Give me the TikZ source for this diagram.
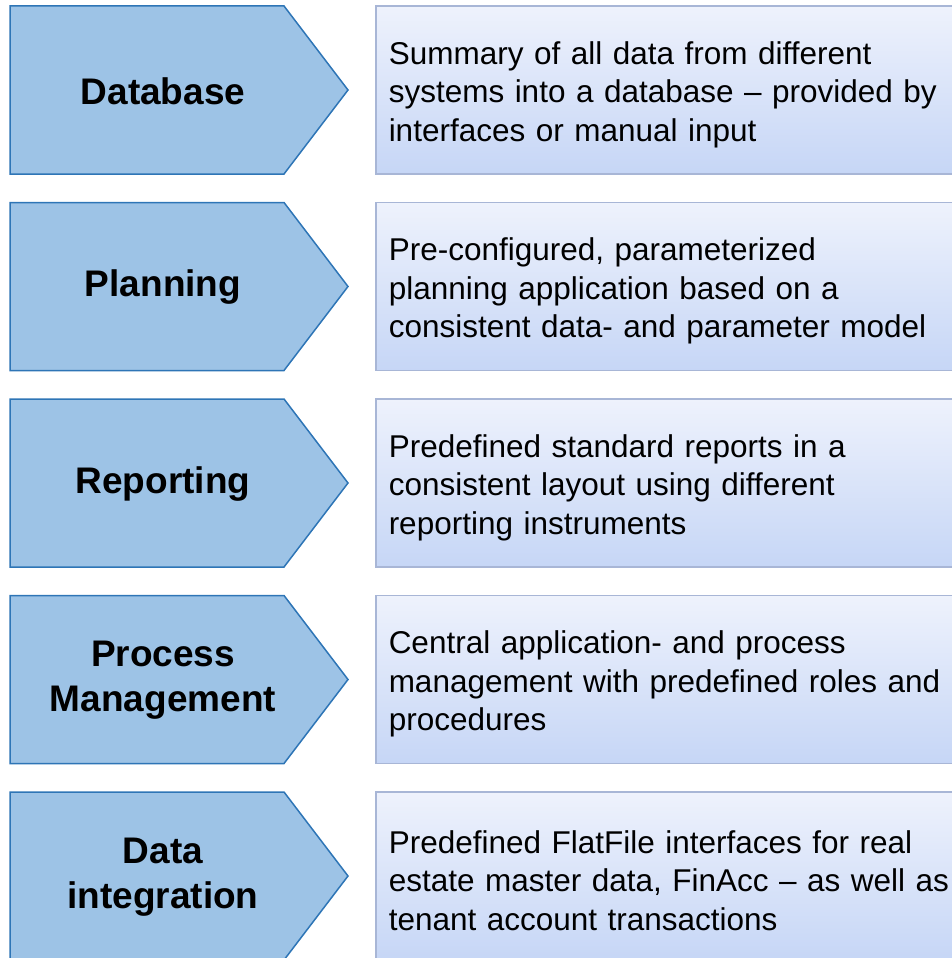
\documentclass[tikz,border=0pt]{standalone}
\usepackage{fontspec}
\setmainfont{Liberation Sans}
\definecolor{chevfill}{HTML}{9DC3E6}
\definecolor{chevline}{HTML}{2E75B6}
\definecolor{boxtop}{HTML}{EEF2FC}
\definecolor{boxbottom}{HTML}{C6D6F6}
\definecolor{boxline}{HTML}{A8B6D6}
\begin{document}
\begin{tikzpicture}[x=1pt,y=-1pt]
    \tikzstyle{chevron}=[draw=chevline,fill=chevfill,line width=1.5pt,line join=miter]
    \tikzstyle{step label}=[font=\fontsize{37}{45}\selectfont\bfseries,align=center]
    \tikzstyle{desc}=[draw=boxline,line width=1.5pt,top color=boxtop,bottom color=boxbottom,
        anchor=west,minimum width=625pt,minimum height=168pt,inner xsep=13pt,
        text width=599pt,text height=32pt,align=left,font=\fontsize{31.5}{38.5}\selectfont]
    \useasboundingbox (0,0) rectangle (952,958);
    \clip (0,0) rectangle (952,958);
    \begin{scope}
        % chevrons
        \draw[chevron] (10,6) -- (284,6) -- (348,90) -- (284,174) -- (10,174) -- cycle;
        \draw[chevron] (10,202.5) -- (284,202.5) -- (348,286.5) -- (284,370.5) -- (10,370.5) -- cycle;
        \draw[chevron] (10,399) -- (284,399) -- (348,483) -- (284,567) -- (10,567) -- cycle;
        \draw[chevron] (10,595.5) -- (284,595.5) -- (348,679.5) -- (284,763.5) -- (10,763.5) -- cycle;
        \draw[chevron] (10,792) -- (284,792) -- (348,876) -- (284,960) -- (10,960) -- cycle;
        \node [step label] (database) at (163,91) {Database};
        \node [step label] (planning) at (163,287.5) {Planning};
        \node [step label] (reporting) at (163,484) {Reporting};
        \node [step label] (process) at (163,680.5) {Process\\Management};
        \node [step label] (integration) at (163,877) {Data\\integration};
        % descriptions
        \node [desc] (databasetext) at (375,90) {Summary of all data from different\\systems into a database -- provided by\\interfaces or manual input};
        \node [desc] (planningtext) at (375,286.5) {Pre-configured, parameterized\\planning application based on a\\consistent data- and parameter model};
        \node [desc] (reportingtext) at (375,483) {Predefined standard reports in a\\consistent layout using different\\reporting instruments};
        \node [desc] (processtext) at (375,679.5) {Central application- and process\\management with predefined roles and\\procedures};
        \node [desc] (integrationtext) at (375,876) {Predefined FlatFile interfaces for real\\estate master data, FinAcc -- as well as\\tenant account transactions};
    \end{scope}
\end{tikzpicture}
\end{document}
